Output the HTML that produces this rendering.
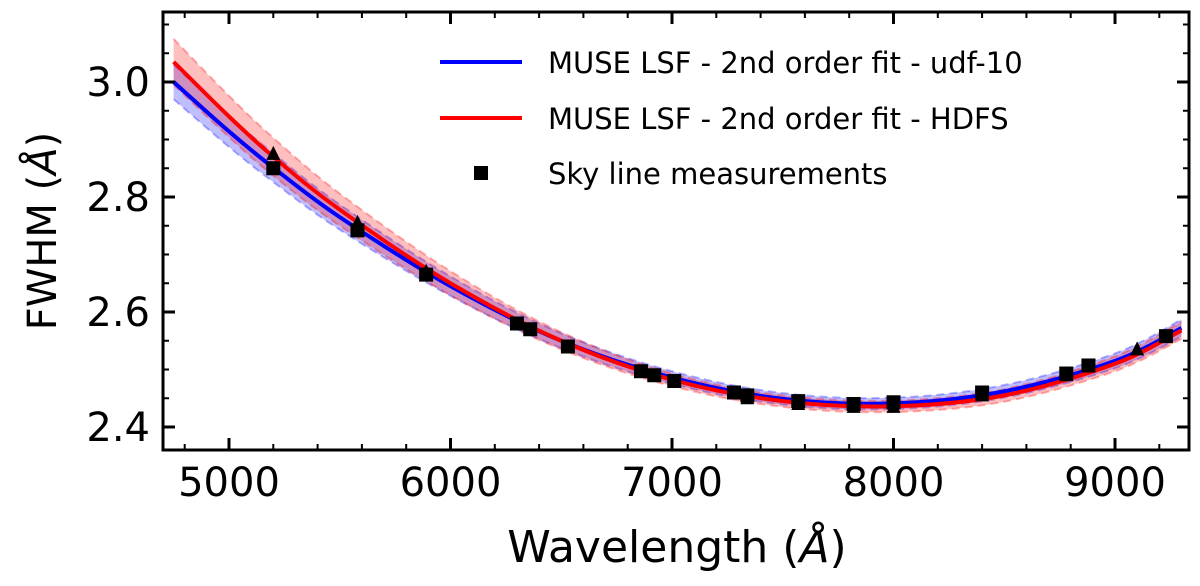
<!DOCTYPE html>
<html><head><meta charset="utf-8"><style>
body{margin:0;background:#fff}
svg{display:block;font-family:"DejaVu Sans","Liberation Sans",sans-serif}
</style></head><body>
<svg id="chart" width="1200" height="586" viewBox="0 0 1200 586">
<g id="bands"></g>
<g id="lines"></g>
<g id="pts"></g>
<g id="axes"></g>
<g>
<line x1="440" y1="62" x2="522" y2="62" stroke="#0000ff" stroke-width="4"/>
<text x="548" y="73" font-size="29">MUSE LSF - 2nd order fit - udf-10</text>
<line x1="440" y1="118" x2="522" y2="118" stroke="#ff0000" stroke-width="4"/>
<text x="548" y="129" font-size="29">MUSE LSF - 2nd order fit - HDFS</text>
<rect x="474" y="166" width="14" height="14" fill="#000"/>
<text x="548" y="184" font-size="29">Sky line measurements</text>
</g>
<text x="677" y="562" font-size="44" text-anchor="middle">Wavelength (<tspan font-style="italic">Å</tspan>)</text>
<text transform="translate(56,231) rotate(-90)" font-size="40" text-anchor="middle">FWHM (<tspan font-style="italic">Å</tspan>)</text>
</svg>
<script>
const wl=[4750,5000,5200,5500,6000,6500,7000,7500,8000,8500,9000,9300];
const blueFit=[3.000,2.914,2.851,2.765,2.645,2.550,2.486,2.449,2.441,2.462,2.515,2.572];
const redFit=[3.035,2.940,2.870,2.778,2.650,2.550,2.482,2.445,2.436,2.455,2.510,2.568];
const blueErr=[0.03,0.027,0.025,0.022,0.017,0.013,0.011,0.01,0.01,0.011,0.013,0.015];
const redErr=[0.04,0.036,0.033,0.028,0.021,0.015,0.011,0.01,0.01,0.011,0.013,0.015];
const sqX=[5200,5580,5890,6300,6360,6530,6860,6920,7010,7280,7340,7570,7820,8000,8400,8780,8880,9230];
const sqY=[2.85,2.742,2.665,2.58,2.57,2.54,2.497,2.49,2.48,2.46,2.455,2.445,2.44,2.443,2.46,2.493,2.507,2.558];
const triX=[5200,5580,5890,7340,7570,7820,8000,8400,8780,9100];
const triY=[2.875,2.755,2.67,2.45,2.44,2.435,2.435,2.455,2.49,2.535];
const xTicks=[5000,6000,7000,8000,9000];
const yTicks=[2.4,2.6,2.8,3.0];
const yTickLabels=["2.4","2.6","2.8","3.0"];
const L=163,R=1189,T=12,B=450;
const sx=v=>229+(v-5000)*0.2215;
const sy=v=>82+(3.0-v)*575;
const NS="http://www.w3.org/2000/svg";
function mk(t,a,p){const e=document.createElementNS(NS,t);for(const k in a)e.setAttribute(k,a[k]);p.appendChild(e);return e;}
function cr(xs,ys){let d="M"+xs[0]+","+ys[0];for(let i=0;i<xs.length-1;i++){const x0=xs[Math.max(i-1,0)],y0=ys[Math.max(i-1,0)],x1=xs[i],y1=ys[i],x2=xs[i+1],y2=ys[i+1],x3=xs[Math.min(i+2,xs.length-1)],y3=ys[Math.min(i+2,xs.length-1)];d+=" C"+(x1+(x2-x0)/6)+","+(y1+(y2-y0)/6)+" "+(x2-(x3-x1)/6)+","+(y2-(y3-y1)/6)+" "+x2+","+y2;}return d;}
const px=wl.map(sx);
function band(fit,err,col,name){
 const up=fit.map((v,i)=>sy(v+err[i])),lo=fit.map((v,i)=>sy(v-err[i]));
 const upD=cr(px,up);const loR=cr(px.slice().reverse(),lo.slice().reverse());
 const e=mk("path",{d:upD+" L"+loR.slice(1)+" Z",fill:col,"fill-opacity":0.25,stroke:"none"},document.getElementById("bands"));
 
 
 [up,lo].forEach(a=>{const l=mk("path",{d:cr(px,a),fill:"none",stroke:col,"stroke-opacity":0.3,"stroke-width":2,"stroke-dasharray":"8,5"},document.getElementById("bands"));
 
 });
}
band(blueFit,blueErr,"#0000ff","band-udf10");
band(redFit,redErr,"#ff0000","band-hdfs");
const bl=mk("path",{d:cr(px,blueFit.map(sy)),fill:"none",stroke:"#0000ff","stroke-width":4},document.getElementById("lines"));


const rl=mk("path",{d:cr(px,redFit.map(sy)),fill:"none",stroke:"#ff0000","stroke-width":4},document.getElementById("lines"));


const pg=document.getElementById("pts");
triX.forEach((x,i)=>{const cx=sx(x),cy=sy(triY[i]);const t=mk("polygon",{points:(cx-7)+","+(cy+6)+" "+(cx+7)+","+(cy+6)+" "+cx+","+(cy-8),fill:"#000"},pg);

});
sqX.forEach((x,i)=>{const r=mk("rect",{x:sx(x)-7,y:sy(sqY[i])-7,width:14,height:14,fill:"#000"},pg);

});
const ax=document.getElementById("axes");
const fr=mk("rect",{x:L,y:T,width:R-L,height:B-T,fill:"none",stroke:"#000","stroke-width":3},ax);


for(let v=4800;v<=9300;v+=200){const x=sx(v);const maj=v%1000===0;const len=maj?12:6;
mk("line",{x1:x,y1:B,x2:x,y2:B-len,stroke:"#000","stroke-width":maj?3:2},ax);
mk("line",{x1:x,y1:T,x2:x,y2:T+len,stroke:"#000","stroke-width":maj?3:2},ax);}
for(let k=0;k<=18;k++){const v=2.35+k*0.05;const y=sy(v);if(y<T||y>B)continue;const maj=Math.abs((v*10)%2)<0.01||Math.abs((v*10)%2-2)<0.01;const len=maj?12:6;
mk("line",{x1:L,y1:y,x2:L+len,y2:y,stroke:"#000","stroke-width":maj?3:2},ax);
mk("line",{x1:R,y1:y,x2:R-len,y2:y,stroke:"#000","stroke-width":maj?3:2},ax);}
xTicks.forEach(v=>{const t=mk("text",{x:sx(v),y:496,"font-size":40,"text-anchor":"middle"},ax);t.textContent=String(v);

});
yTicks.forEach((v,i)=>{const t=mk("text",{x:150,y:sy(v)+14,"font-size":40,"text-anchor":"end"},ax);t.textContent=yTickLabels[i];

});
</script>
</body></html>
